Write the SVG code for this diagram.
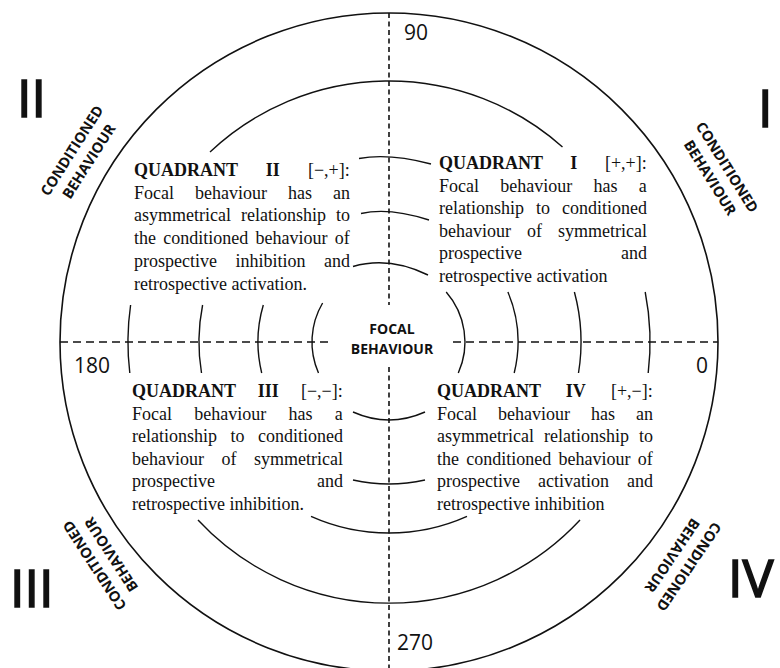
<svg xmlns="http://www.w3.org/2000/svg" width="780" height="668" viewBox="0 0 780 668">
<style>
.body{font-family:"Liberation Serif","Times New Roman",serif;font-size:18px;fill:#111}
.b{font-weight:bold}
.num{font-family:"Open Sans","DejaVu Sans",sans-serif;font-size:21px;fill:#111}
.roman{font-family:"Open Sans","DejaVu Sans",sans-serif;font-size:52px;fill:#111;stroke:#111;stroke-width:1.6}
.lbl{font-family:"Open Sans","DejaVu Sans",sans-serif;font-weight:bold;font-size:14.5px;text-anchor:middle;fill:#111}
.focal{font-family:"Open Sans","DejaVu Sans",sans-serif;font-weight:bold;font-size:14px;text-anchor:middle;fill:#111}
.arc{fill:none;stroke:#111;stroke-width:1.4}
.outer{fill:none;stroke:#111;stroke-width:1.6}
.dv{stroke:#111;stroke-width:1.6;stroke-dasharray:5 3.5;fill:none}
.dh{stroke:#111;stroke-width:1.6;stroke-dasharray:8 5;fill:none}
</style>
<rect width="780" height="668" fill="#fff"/>
<g id="outer-circle"><circle class="outer" cx="389" cy="342" r="329"/></g>
<g id="connectors">
<line class="dv" x1="389" y1="13" x2="389" y2="305"/>
<line class="dv" x1="389" y1="367" x2="389" y2="668"/>
<line class="dh" x1="60" y1="342" x2="331" y2="342"/>
<line class="dh" x1="453" y1="342" x2="718" y2="342"/>
</g>
<g id="rings">
<!-- ring 4 -->
<path class="arc" d="M210,152 A261,261 0 0 1 562.5,147"/>
<path class="arc" d="M130.6,305 A261,261 0 0 0 129.8,373"/>
<path class="arc" d="M645.2,292 A261,261 0 0 1 648.2,373"/>
<path class="arc" d="M198,520 A261,261 0 0 0 580,520"/>
<!-- ring 3 -->
<path class="arc" d="M359,158.5 Q389,153 431,164"/>
<path class="arc" d="M202.6,305 A190,190 0 0 0 201.5,373"/>
<path class="arc" d="M574.4,292 A192,192 0 0 1 578.5,373"/>
<path class="arc" d="M311,516.3 A191,191 0 0 0 467,516.3"/>
<!-- ring 2 -->
<path class="arc" d="M361,213.5 Q389,207 429,220"/>
<path class="arc" d="M263.3,305 A131,131 0 0 0 261.7,373"/>
<path class="arc" d="M507.9,292 A129,129 0 0 1 514.2,373"/>
<path class="arc" d="M353,480 Q389,488 425,480"/>
<!-- ring 1 -->
<path class="arc" d="M353,266.5 Q389,256 428,275"/>
<path class="arc" d="M322.6,303 A77,77 0 0 0 318.5,373"/>
<path class="arc" d="M446.2,292 A76,76 0 0 1 458.3,373"/>
<path class="arc" d="M353,412 Q389,428 425,412"/>
</g>
<g id="focal">
<text class="focal" x="392" y="334">FOCAL</text>
<text class="focal" x="392" y="354">BEHAVIOUR</text>
</g>
<g id="axis-numbers">
<text class="num" x="404" y="40">90</text>
<text class="num" x="397" y="650">270</text>
<text class="num" x="74" y="373">180</text>
<text class="num" x="696" y="373">0</text>
</g>
<g id="roman">
<text class="roman" x="17" y="117">II</text>
<text class="roman" x="758" y="127">I</text>
<text class="roman" x="10" y="607">III</text>
<text class="roman" x="728" y="597">IV</text>
</g>
<g id="label-q2"><text class="lbl" transform="translate(80.5,156) rotate(-57.5)"><tspan x="0" y="-5">CONDITIONED</tspan><tspan x="0" y="15">BEHAVIOUR</tspan></text></g>
<g id="label-q1"><text class="lbl" transform="translate(718.5,172.5) rotate(58)"><tspan x="0" y="-5">CONDITIONED</tspan><tspan x="0" y="15">BEHAVIOUR</tspan></text></g>
<g id="label-q3"><text class="lbl" transform="translate(103,560) rotate(-123)"><tspan x="0" y="-5">CONDITIONED</tspan><tspan x="0" y="15">BEHAVIOUR</tspan></text></g>
<g id="label-q4"><text class="lbl" transform="translate(680.5,561) rotate(124)"><tspan x="0" y="-5">CONDITIONED</tspan><tspan x="0" y="15">BEHAVIOUR</tspan></text></g>
<g id="quadrant-2" class="body">
<text x="134" y="176" style="word-spacing:23.6px"><tspan class="b">QUADRANT II</tspan> [−,+]:</text>
<text x="134" y="198.7" style="word-spacing:16.5px">Focal behaviour has an</text>
<text x="134" y="221.4" style="word-spacing:5.5px">asymmetrical relationship to</text>
<text x="134" y="244.1" style="word-spacing:2.8px">the conditioned behaviour of</text>
<text x="134" y="266.8" style="word-spacing:14px">prospective inhibition and</text>
<text x="134" y="289.5">retrospective activation.</text>
</g>
<g id="quadrant-1" class="body">
<text x="439" y="169" style="word-spacing:23.1px"><tspan class="b">QUADRANT I</tspan> [+,+]:</text>
<text x="439" y="191.6" style="word-spacing:16.8px">Focal behaviour has a</text>
<text x="439" y="214.2" style="word-spacing:7.5px">relationship to conditioned</text>
<text x="439" y="236.8" style="word-spacing:11.5px">behaviour of symmetrical</text>
<text x="439" y="259.4" style="word-spacing:94.5px">prospective and</text>
<text x="439" y="282">retrospective activation</text>
</g>
<g id="quadrant-3" class="body">
<text x="132" y="397" style="word-spacing:17.6px"><tspan class="b">QUADRANT III</tspan> [−,−]:</text>
<text x="132" y="419.5" style="word-spacing:17.8px">Focal behaviour has a</text>
<text x="132" y="442" style="word-spacing:9px">relationship to conditioned</text>
<text x="132" y="464.5" style="word-spacing:13px">behaviour of symmetrical</text>
<text x="132" y="487" style="word-spacing:97.5px">prospective and</text>
<text x="132" y="509.5">retrospective inhibition.</text>
</g>
<g id="quadrant-4" class="body">
<text x="437" y="397" style="word-spacing:20.6px"><tspan class="b">QUADRANT IV</tspan> [+,−]:</text>
<text x="437" y="419.5" style="word-spacing:16.5px">Focal behaviour has an</text>
<text x="437" y="442" style="word-spacing:5.5px">asymmetrical relationship to</text>
<text x="437" y="464.5" style="word-spacing:2.8px">the conditioned behaviour of</text>
<text x="437" y="487" style="word-spacing:13.5px">prospective activation and</text>
<text x="437" y="509.5">retrospective inhibition</text>
</g>
</svg>
